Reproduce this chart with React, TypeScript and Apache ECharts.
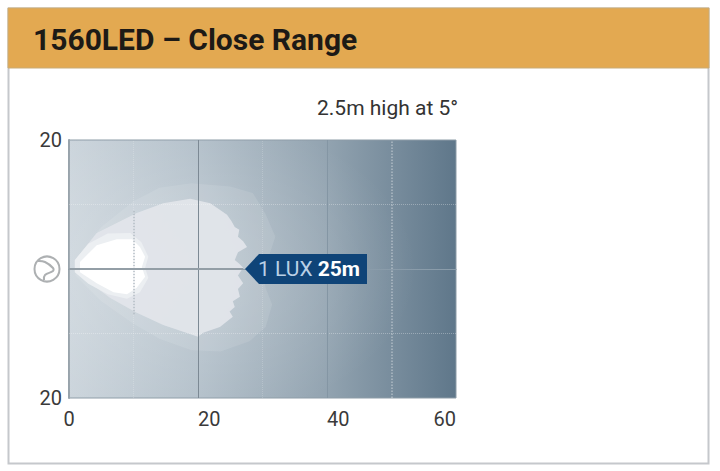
import React, { useEffect, useRef } from "react";
import * as echarts from "echarts";

const titleText = "1560LED – Close Range";
const subtitleText = "2.5m high at 5°";
const xTicks = [0, 20, 40, 60];
const yTicks = [-20, 0, 20];
const solidX = [20, 40];
const dottedX = [10, 30, 50];
const dottedY = [-10, 10];
const beamEnd = 27;
const nearDottedSpan = [-7, 9];

// Contours in metres: [distance, lateral offset]
const haloContour = [
  [1, 1.5], [5, 6.5], [10, 10.5], [14, 12.6], [19, 13.3], [25, 12.8], [28.5, 11.8], [30.5, 8.5], [32, 5],
  [31, 2], [30, 0], [30.5, -3], [31.5, -5.5], [30.5, -9], [28, -11.2], [23.5, -12.8], [19, -12.6], [14, -10.8],
  [10, -8.5], [5, -5], [1, -1],
];
const mainContour = [
  [1.2, 1.7], [4.3, 5.6], [10.5, 8.7], [14.6, 10.2], [18.8, 10.9], [21.9, 10.2], [24.5, 8.4], [25.2, 7.4], [25.7, 6.5],
  [26.4, 6.1], [26.2, 5], [27, 4.3], [27.6, 3.4], [26.2, 2.6], [25.7, 1.4], [26.4, 0.8], [27, 0.2], [26.2, -1],
  [27, -2.2], [26.2, -3.1], [26.5, -4.3], [25.4, -5], [25.7, -5.9], [24.9, -6.6], [25.4, -7.4], [23.4, -9],
  [20.8, -9.9], [20, -10.5], [14.6, -8.7], [10.5, -6.8], [6.4, -4.5], [2.2, -1.4], [0.9, -0.2],
];
const brightContour = [
  [0.9, 1.4], [3, 3.9], [6, 5.5], [9.5, 5.6], [11.2, 4.2], [12.3, 1.9], [11.8, 0.2], [12.3, -1.4], [11, -3.6], [9, -4.6],
  [6, -3.9], [3, -2.3], [0.9, -0.5],
];
const coreContour = [
  [1.7, 1.1], [4.3, 3.7], [7.4, 4.6], [9.8, 4.6], [11, 3.4], [11.8, 1.9], [11.3, 0.3], [11.8, -1.2], [10.5, -2.9],
  [9, -3.9], [6.9, -3.6], [4.3, -2.2], [1.7, -0.5],
];

const contourSeries = (contour: number[][], fill: string, opacity: number, z: number) => ({
  type: "custom",
  coordinateSystem: "cartesian2d",
  silent: true,
  z,
  data: contour,
  encode: { x: 0, y: 1 },
  renderItem: (params: any, api: any) => {
    if (params.dataIndex !== 0) return null;
    return {
      type: "polygon",
      shape: { points: contour.map((p) => api.coord(p)) },
      style: { fill, opacity },
    };
  },
});

const line = (color: string, width: number, type: string) => ({ color, width, type });

export default function App() {
  const ref = useRef<HTMLDivElement>(null);
  useEffect(() => {
    const chart = echarts.init(ref.current!, undefined, { renderer: "svg" });
    const ff = "Roboto, 'Noto Sans', sans-serif";
    chart.setOption({
      animation: false,
      backgroundColor: "#ffffff",
      title: [
        {
          text: titleText, left: 28, top: 19, z: 10,
          textStyle: { fontFamily: ff, fontSize: 30, fontWeight: 700, color: "#1d1a16" },
        },
        {
          text: subtitleText, left: 312, top: 92, z: 10,
          textStyle: { fontFamily: ff, fontSize: 21, fontWeight: 400, color: "#333333" },
        },
      ],
      grid: {
        left: 69, top: 140, width: 387, height: 258, show: true, borderWidth: 1, borderColor: "#8d9ca7",
        backgroundColor: {
          type: "linear", x: 0, y: 0, x2: 1, y2: 0,
          colorStops: [
            { offset: 0, color: "#ccd5dc" },
            { offset: 0.33, color: "#b3c0ca" },
            { offset: 0.66, color: "#93a4b1" },
            { offset: 1, color: "#5f778a" },
          ],
        },
      },
      xAxis: {
        type: "value", min: xTicks[0], max: xTicks[3], interval: 20,
        axisLine: { show: true, lineStyle: { color: "#7f8f9b", width: 1 } },
        axisTick: { show: false }, splitLine: { show: false },
        axisLabel: {
          margin: 11, fontFamily: ff, fontSize: 20, color: "#3a3a3a",
          align: "left", alignMinLabel: "center", alignMaxLabel: "right",
        },
      },
      yAxis: {
        type: "value", min: yTicks[0], max: yTicks[2], interval: 20,
        axisLine: { show: true, lineStyle: { color: "#98a3ab", width: 2 } },
        axisTick: { show: false }, splitLine: { show: false },
        axisLabel: {
          margin: 7, fontFamily: ff, fontSize: 20, color: "#3a3a3a",
          formatter: (v: number) => (v === 0 ? "" : String(Math.abs(v))),
        },
      },
      series: [
        contourSeries(haloContour, "#ffffff", 0.1, 2),
        contourSeries(mainContour, "#e2e5ea", 0.95, 3),
        contourSeries(brightContour, "#eceff2", 1, 4),
        contourSeries(coreContour, "#ffffff", 1, 5),
        {
          type: "line", data: [], z: 6, silent: true,
          markLine: {
            silent: true, symbol: "none", label: { show: false }, z: 6,
            data: [
              { xAxis: dottedX[0], lineStyle: line("rgba(255,255,255,0.2)", 1, "dotted") },
              [
                { coord: [dottedX[0], nearDottedSpan[0]], lineStyle: line("#b3bcc3", 1.5, "dotted") },
                { coord: [dottedX[0], nearDottedSpan[1]] },
              ],
              { xAxis: dottedX[1], lineStyle: line("rgba(255,255,255,0.18)", 1, "dotted") },
              { xAxis: dottedX[2], lineStyle: line("rgba(255,255,255,0.4)", 1.5, "dotted") },
              ...dottedY.map((v) => ({ yAxis: v, lineStyle: line("rgba(255,255,255,0.3)", 1, "dotted") })),
              { xAxis: solidX[0], lineStyle: line("#7c8994", 1, "solid") },
              { xAxis: solidX[1], lineStyle: line("#8496a4", 1, "solid") },
              [
                { coord: [xTicks[0], 0], lineStyle: line("#939ea6", 2, "solid") },
                { coord: [beamEnd, 0] },
              ],
              [
                { coord: [beamEnd, 0], lineStyle: line("#8a9caa", 1, "solid") },
                { coord: [xTicks[3], 0] },
              ],
            ],
          },
        },
      ],
      graphic: [
        {
          type: "rect", z: 1, silent: true, shape: { x: 69, y: 140, width: 387, height: 258 },
          style: {
            fill: {
              type: "radial", x: 0.3, y: 0.5, r: 0.6,
              colorStops: [
                { offset: 0, color: "rgba(255,255,255,0.22)" },
                { offset: 1, color: "rgba(255,255,255,0)" },
              ],
            },
          },
        },
        { type: "rect", z: 1, shape: { x: 8.5, y: 8.5, width: 700, height: 455 }, style: { fill: "none", stroke: "#c5c8cc", lineWidth: 2 } },
        { type: "rect", z: 2, shape: { x: 8, y: 8, width: 701, height: 60 }, style: { fill: "#e3a951", stroke: "#c9ab77", lineWidth: 1 } },
        { type: "circle", z: 10, shape: { cx: 47, cy: 269, r: 12.5 }, style: { fill: "#ffffff", stroke: "#adb0b2", lineWidth: 2 } },
        { type: "polyline", z: 10, shape: { points: [[38, 261], [45, 262], [53, 268], [53, 271], [45, 275], [44, 280]], smooth: 0.4 }, style: { fill: "none", stroke: "#adb0b2", lineWidth: 2 } },
        { type: "polygon", z: 10, shape: { points: [[245, 269], [259, 254], [367, 254], [367, 284], [259, 284]] }, style: { fill: "#0f4478" } },
        {
          type: "text", z: 11, x: 258, y: 269,
          style: {
            text: "{a|1 LUX }{b|25m}", verticalAlign: "middle",
            rich: {
              a: { fontFamily: ff, fontSize: 21, fill: "#b9d0e6", color: "#b9d0e6" },
              b: { fontFamily: ff, fontSize: 21, fontWeight: 700, fill: "#ffffff", color: "#ffffff" },
            },
          },
        },
      ],
    });
    return () => chart.dispose();
  }, []);
  return <div ref={ref} style={{ position: "absolute", left: 0, top: 0, width: 720, height: 471 }} />;
}
